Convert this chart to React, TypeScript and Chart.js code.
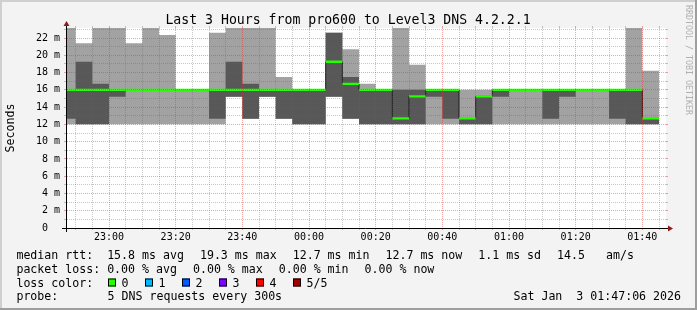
import React, { useEffect, useRef } from 'react';
import { Chart, registerables } from 'chart.js';
Chart.register(...registerables);

const W = 697;
const H = 310;

const TITLE = 'Last 3 Hours from pro600 to Level3 DNS 4.2.2.1';
const Y_AXIS_TITLE = 'Seconds';
const SIDE_TEXT = 'RRDTOOL / TOBI OETIKER';

const GRAPH_START = '22:47:06';
const GRAPH_END = '01:47:06';
const STEP_MINUTES = 5;

const STEP_END = ['22:50', '22:55', '23:00', '23:05', '23:10', '23:15', '23:20', '23:25', '23:30', '23:35', '23:40', '23:45', '23:50', '23:55', '00:00', '00:05', '00:10', '00:15', '00:20', '00:25', '00:30', '00:35', '00:40', '00:45', '00:50', '00:55', '01:00', '01:05', '01:10', '01:15', '01:20', '01:25', '01:30', '01:35', '01:40', '01:45'];

// sorted DNS request times per step, in ms
const PING_1 = [12.0, 12.0, 12.0, 12.0, 12.0, 12.0, 12.0, 12.0, 12.0, 12.0, 15.2, 12.65, 15.2, 12.65, 12.0, 12.0, 15.2, 12.65, 12.0, 12.0, 12.0, 12.0, 12.0, 12.0, 12.0, 12.0, 12.0, 12.0, 12.0, 12.0, 12.0, 12.0, 12.0, 12.0, 12.0, 12.0];
const PING_2 = [12.65, 12.0, 12.0, 15.2, 16.0, 16.0, 16.0, 16.0, 16.0, 12.65, 15.2, 12.65, 15.2, 12.65, 12.0, 12.0, 15.2, 12.65, 12.0, 12.0, 12.0, 12.0, 15.2, 12.65, 12.0, 12.0, 15.2, 16.0, 16.0, 12.65, 15.2, 16.0, 16.0, 12.65, 12.0, 12.0];
const MEDIAN = [16.0, 16.0, 16.0, 16.0, 16.0, 16.0, 16.0, 16.0, 16.0, 16.0, 16.0, 16.0, 16.0, 16.0, 16.0, 16.0, 19.25, 16.7, 16.0, 16.0, 12.7, 15.25, 16.0, 16.0, 12.7, 15.25, 16.0, 16.0, 16.0, 16.0, 16.0, 16.0, 16.0, 16.0, 16.0, 12.7];
const PING_4 = [16.0, 19.25, 16.7, 16.0, 16.0, 16.0, 16.0, 16.0, 16.0, 16.0, 19.25, 16.7, 16.0, 16.0, 16.0, 16.0, 22.6, 17.5, 16.0, 16.0, 16.0, 16.0, 16.0, 16.0, 12.7, 15.25, 16.0, 16.0, 16.0, 16.0, 16.0, 16.0, 16.0, 16.0, 16.0, 12.7];
const PING_5 = [24.0, 21.4, 24.0, 24.0, 21.4, 24.0, 22.35, 16.0, 16.0, 22.6, 24.0, 24.0, 24.0, 17.5, 16.0, 16.0, 22.6, 20.7, 16.7, 16.0, 24.0, 18.9, 16.0, 16.0, 16.0, 16.0, 16.0, 16.0, 16.0, 16.0, 16.0, 16.0, 16.0, 16.0, 24.0, 18.2];

const Y_MAX = 23.16;
const Y_TICKS = [0, 1, 2, 3, 4, 5, 6, 7, 8, 9, 10, 11, 12, 13, 14, 15, 16, 17, 18, 19, 20, 21, 22, 23];
const Y_LABELS = ['0  ', '2 m', '4 m', '6 m', '8 m', '10 m', '12 m', '14 m', '16 m', '18 m', '20 m', '22 m'];
const Y_LABEL_VALUES = [0, 2, 4, 6, 8, 10, 12, 14, 16, 18, 20, 22];
const X_LABELS = ['23:00', '23:20', '23:40', '00:00', '00:20', '00:40', '01:00', '01:20', '01:40'];

const RTT_ITEMS = ['median rtt:  15.8 ms avg', '19.3 ms max', '12.7 ms min', '12.7 ms now', '1.1 ms sd', '14.5   am/s'];
const LOSS_ITEMS = ['packet loss: 0.00 % avg', '0.00 % max', '0.00 % min', '0.00 % now'];
const COLOR_LABEL = 'loss color:';
const LOSS_COLOR_NAMES = ['0', '1', '2', '3', '4', '5/5'];
const LOSS_COLOR_VALUES = ['#26ff00', '#00b8ff', '#0059ff', '#7e00ff', '#ff0000', '#a00000'];
const PROBE_LABEL = 'probe:';
const PROBE_TEXT = '5 DNS requests every 300s';
const DATE_TEXT = 'Sat Jan  3 01:47:06 2026';

// layout
const LEG_LEFT = 16.4;
const LEG_COL2 = 107.6;
const LEG_GAP = 16;
const LINE_Y = [258.5, 272.5, 286.5, 300];
const MONO = '"DejaVu Sans Mono", monospace';
const LEG_FONT = '11.6px ' + MONO;

function toMin(s: string): number {
  const p = s.split(':').map(Number);
  let t = p[0] * 60 + p[1] + (p[2] || 0) / 60;
  if (p[0] < 12) t += 24 * 60;
  return t - 23 * 60;
}

const ENDS = STEP_END.map(toMin);
const STARTS = ENDS.map((e) => e - STEP_MINUTES);
const X_LABEL_MIN = X_LABELS.map(toMin);

function stepPoints(vals: number[]) {
  const pts = vals.map((v, i) => ({ x: STARTS[i], y: v }));
  pts.push({ x: ENDS[ENDS.length - 1], y: vals[vals.length - 1] });
  return pts;
}
function bandPoints(vals: number[]) {
  const pts: { x: number; y: number | null }[] = [];
  vals.forEach((v, i) => {
    pts.push({ x: STARTS[i], y: v }, { x: ENDS[i], y: v }, { x: ENDS[i], y: null });
  });
  return pts;
}

const MAJOR_GRID = 'rgba(222,40,40,0.42)';
const MINOR_GRID = 'rgba(100,100,100,0.36)';

function align(p: number) {
  return Math.round(p - 0.5) + 0.5;
}

const chromePlugin = {
  id: 'rrdChrome',
  beforeDraw(chart: any) {
    const ctx = chart.ctx;
    const a = chart.chartArea;
    ctx.save();
    ctx.fillStyle = '#f3f3f3';
    ctx.fillRect(0, 0, W, H);
    ctx.fillStyle = '#cfcfcf';
    ctx.fillRect(0, 0, W, 2);
    ctx.fillRect(0, 0, 2, H);
    ctx.fillStyle = '#9e9e9e';
    ctx.fillRect(0, H - 2, W, 2);
    ctx.fillRect(W - 2, 0, 2, H);
    ctx.fillStyle = '#ffffff';
    ctx.fillRect(a.left, a.top, a.right - a.left, a.bottom - a.top);
    ctx.restore();
  },
  afterDatasetsDraw(chart: any) {
    const ctx = chart.ctx;
    const a = chart.chartArea;
    const xs = chart.scales.x;
    const ys = chart.scales.y;
    ctx.save();
    ctx.lineWidth = 1;
    // dotted grid over the data
    ctx.setLineDash([1, 1]);
    Y_TICKS.forEach((v) => {
      if (v === 0) return;
      const y = align(ys.getPixelForValue(v));
      ctx.strokeStyle = v % 2 === 0 ? MAJOR_GRID : MINOR_GRID;
      ctx.beginPath();
      ctx.moveTo(a.left + 1, y);
      ctx.lineTo(a.right, y);
      ctx.stroke();
    });
    ENDS.forEach((t) => {
      const x = align(xs.getPixelForValue(t));
      ctx.strokeStyle = X_LABEL_MIN.indexOf(t) >= 0 ? MAJOR_GRID : MINOR_GRID;
      ctx.beginPath();
      ctx.moveTo(x, a.top);
      ctx.lineTo(x, a.bottom);
      ctx.stroke();
    });
    // small solid ticks at grid ends
    ctx.setLineDash([]);
    Y_TICKS.forEach((v) => {
      const y = align(ys.getPixelForValue(v));
      ctx.strokeStyle = v % 2 === 0 ? MAJOR_GRID : MINOR_GRID;
      ctx.beginPath();
      ctx.moveTo(a.left - 2, y);
      ctx.lineTo(a.left, y);
      ctx.moveTo(a.right, y);
      ctx.lineTo(a.right + 2, y);
      ctx.stroke();
    });
    ENDS.forEach((t) => {
      const x = align(xs.getPixelForValue(t));
      ctx.strokeStyle = X_LABEL_MIN.indexOf(t) >= 0 ? MAJOR_GRID : MINOR_GRID;
      ctx.beginPath();
      ctx.moveTo(x, a.top - 2);
      ctx.lineTo(x, a.top);
      ctx.moveTo(x, a.bottom);
      ctx.lineTo(x, a.bottom + 2);
      ctx.stroke();
    });
    ctx.restore();
  },
  afterDraw(chart: any) {
    const ctx = chart.ctx;
    const a = chart.chartArea;
    ctx.save();
    // axes
    const ax = align(a.left);
    const ay = align(a.bottom);
    ctx.lineWidth = 1;
    ctx.strokeStyle = '#000';
    ctx.beginPath();
    ctx.moveTo(ax, a.bottom + 4);
    ctx.lineTo(ax, a.top - 3);
    ctx.moveTo(a.left - 4, ay);
    ctx.lineTo(a.right + 3, ay);
    ctx.stroke();
    ctx.fillStyle = '#8b1c1c';
    ctx.beginPath();
    ctx.moveTo(ax - 3, a.top - 2);
    ctx.lineTo(ax + 3, a.top - 2);
    ctx.lineTo(ax, a.top - 7);
    ctx.closePath();
    ctx.fill();
    ctx.beginPath();
    ctx.moveTo(a.right + 2, ay - 3);
    ctx.lineTo(a.right + 2, ay + 3);
    ctx.lineTo(a.right + 7, ay);
    ctx.closePath();
    ctx.fill();

    // title
    ctx.fillStyle = '#000';
    ctx.font = '13.2px ' + MONO;
    ctx.textAlign = 'center';
    ctx.textBaseline = 'alphabetic';
    ctx.fillText(TITLE, 348, 24);

    // y axis title
    ctx.save();
    ctx.font = LEG_FONT;
    ctx.translate(11, (a.top + a.bottom) / 2);
    ctx.rotate(-Math.PI / 2);
    ctx.textBaseline = 'middle';
    ctx.fillText(Y_AXIS_TITLE, 0, 0);
    ctx.restore();

    // side text
    ctx.save();
    ctx.font = '8.3px ' + MONO;
    ctx.fillStyle = '#b0b0b0';
    ctx.translate(688.5, 60);
    ctx.rotate(Math.PI / 2);
    ctx.textAlign = 'center';
    ctx.textBaseline = 'middle';
    ctx.fillText(SIDE_TEXT, 0, 0);
    ctx.restore();

    // legend: items flow left to right with a fixed gap
    ctx.font = LEG_FONT;
    ctx.textAlign = 'left';
    ctx.textBaseline = 'alphabetic';
    ctx.fillStyle = '#000';
    const flow = (items: string[], y: number) => {
      let x = LEG_LEFT;
      items.forEach((s) => {
        ctx.fillText(s, x, y);
        x += ctx.measureText(s).width + LEG_GAP;
      });
    };
    flow(RTT_ITEMS, LINE_Y[0]);
    flow(LOSS_ITEMS, LINE_Y[1]);
    ctx.fillText(COLOR_LABEL, LEG_LEFT, LINE_Y[2]);
    let bx = LEG_COL2 + 0.4;
    LOSS_COLOR_NAMES.forEach((n, i) => {
      ctx.fillStyle = LOSS_COLOR_VALUES[i];
      ctx.fillRect(bx, LINE_Y[2] - 8, 8, 8);
      ctx.strokeStyle = '#000';
      ctx.strokeRect(bx + 0.5, LINE_Y[2] - 7.5, 7, 7);
      ctx.fillStyle = '#000';
      ctx.fillText(n, bx + 13.5, LINE_Y[2]);
      bx += 37 + (n.length - 1) * 7;
    });
    ctx.fillText(PROBE_LABEL, LEG_LEFT, LINE_Y[3]);
    ctx.fillText(PROBE_TEXT, LEG_COL2, LINE_Y[3]);
    ctx.textAlign = 'right';
    ctx.fillText(DATE_TEXT, 681, LINE_Y[3]);
    ctx.restore();
  },
};

const smoke = (data: any, color: string | undefined, fill: any) => ({
  data,
  stepped: 'before' as const,
  borderColor: 'rgba(0,0,0,0)',
  borderWidth: 0,
  pointRadius: 0,
  backgroundColor: color || 'rgba(0,0,0,0)',
  fill,
});

export default function App() {
  const ref = useRef<HTMLCanvasElement>(null);
  useEffect(() => {
    const canvas = ref.current!;
    const chart = new Chart(canvas, {
      type: 'line',
      data: {
        datasets: [
          {
            label: 'median',
            data: bandPoints(MEDIAN) as any,
            borderColor: '#26ff00',
            borderWidth: 2.3,
            borderCapStyle: 'butt',
            pointRadius: 0,
            fill: false,
            spanGaps: false,
          },
          {
            label: 'median step',
            data: stepPoints(MEDIAN),
            stepped: 'before',
            borderColor: '#1a1a1a',
            borderWidth: 1,
            pointRadius: 0,
            fill: false,
          },
          { label: 'ping 4', ...smoke(stepPoints(PING_4), '#585858', '+1') },
          { label: 'ping 2', ...smoke(stepPoints(PING_2), undefined, false) },
          { label: 'ping 5', ...smoke(stepPoints(PING_5), '#a2a2a2', '+1') },
          { label: 'ping 1', ...smoke(stepPoints(PING_1), undefined, false) },
        ] as any,
      },
      options: {
        animation: false,
        responsive: false,
        devicePixelRatio: 1,
        layout: { padding: { left: 0, top: 28, right: 31, bottom: 0 } },
        plugins: { legend: { display: false }, title: { display: false }, tooltip: { enabled: false } },
        events: [],
        scales: {
          x: {
            type: 'linear',
            min: toMin(GRAPH_START),
            max: toMin(GRAPH_END),
            afterBuildTicks: (s: any) => {
              s.ticks = ENDS.map((v) => ({ value: v }));
            },
            afterFit: (s: any) => {
              s.height = H - 228;
            },
            ticks: {
              autoSkip: false,
              maxRotation: 0,
              padding: 3,
              color: '#000',
              font: { family: MONO, size: 10 },
              callback: (v: any) => {
                const i = X_LABEL_MIN.indexOf(v);
                return i >= 0 ? X_LABELS[i] : '';
              },
            },
            grid: { display: false, drawTicks: false },
            border: { display: false },
          },
          y: {
            type: 'linear',
            min: 0,
            max: Y_MAX,
            afterBuildTicks: (s: any) => {
              s.ticks = Y_TICKS.map((v) => ({ value: v }));
            },
            afterFit: (s: any) => {
              s.width = 66;
            },
            ticks: {
              autoSkip: false,
              padding: 6,
              color: '#000',
              font: { family: MONO, size: 10 },
              callback: (v: any) => {
                const i = Y_LABEL_VALUES.indexOf(v);
                return i >= 0 ? Y_LABELS[i] : '';
              },
            },
            grid: { display: false, drawTicks: false },
            border: { display: false },
          },
        },
      },
      plugins: [chromePlugin],
    } as any);
    return () => chart.destroy();
  }, []);
  return (
    <div style={{ position: 'fixed', left: 0, top: 0, width: W, height: H }}>
      <canvas ref={ref} width={W} height={H} style={{ width: W, height: H, display: 'block' }} />
    </div>
  );
}
